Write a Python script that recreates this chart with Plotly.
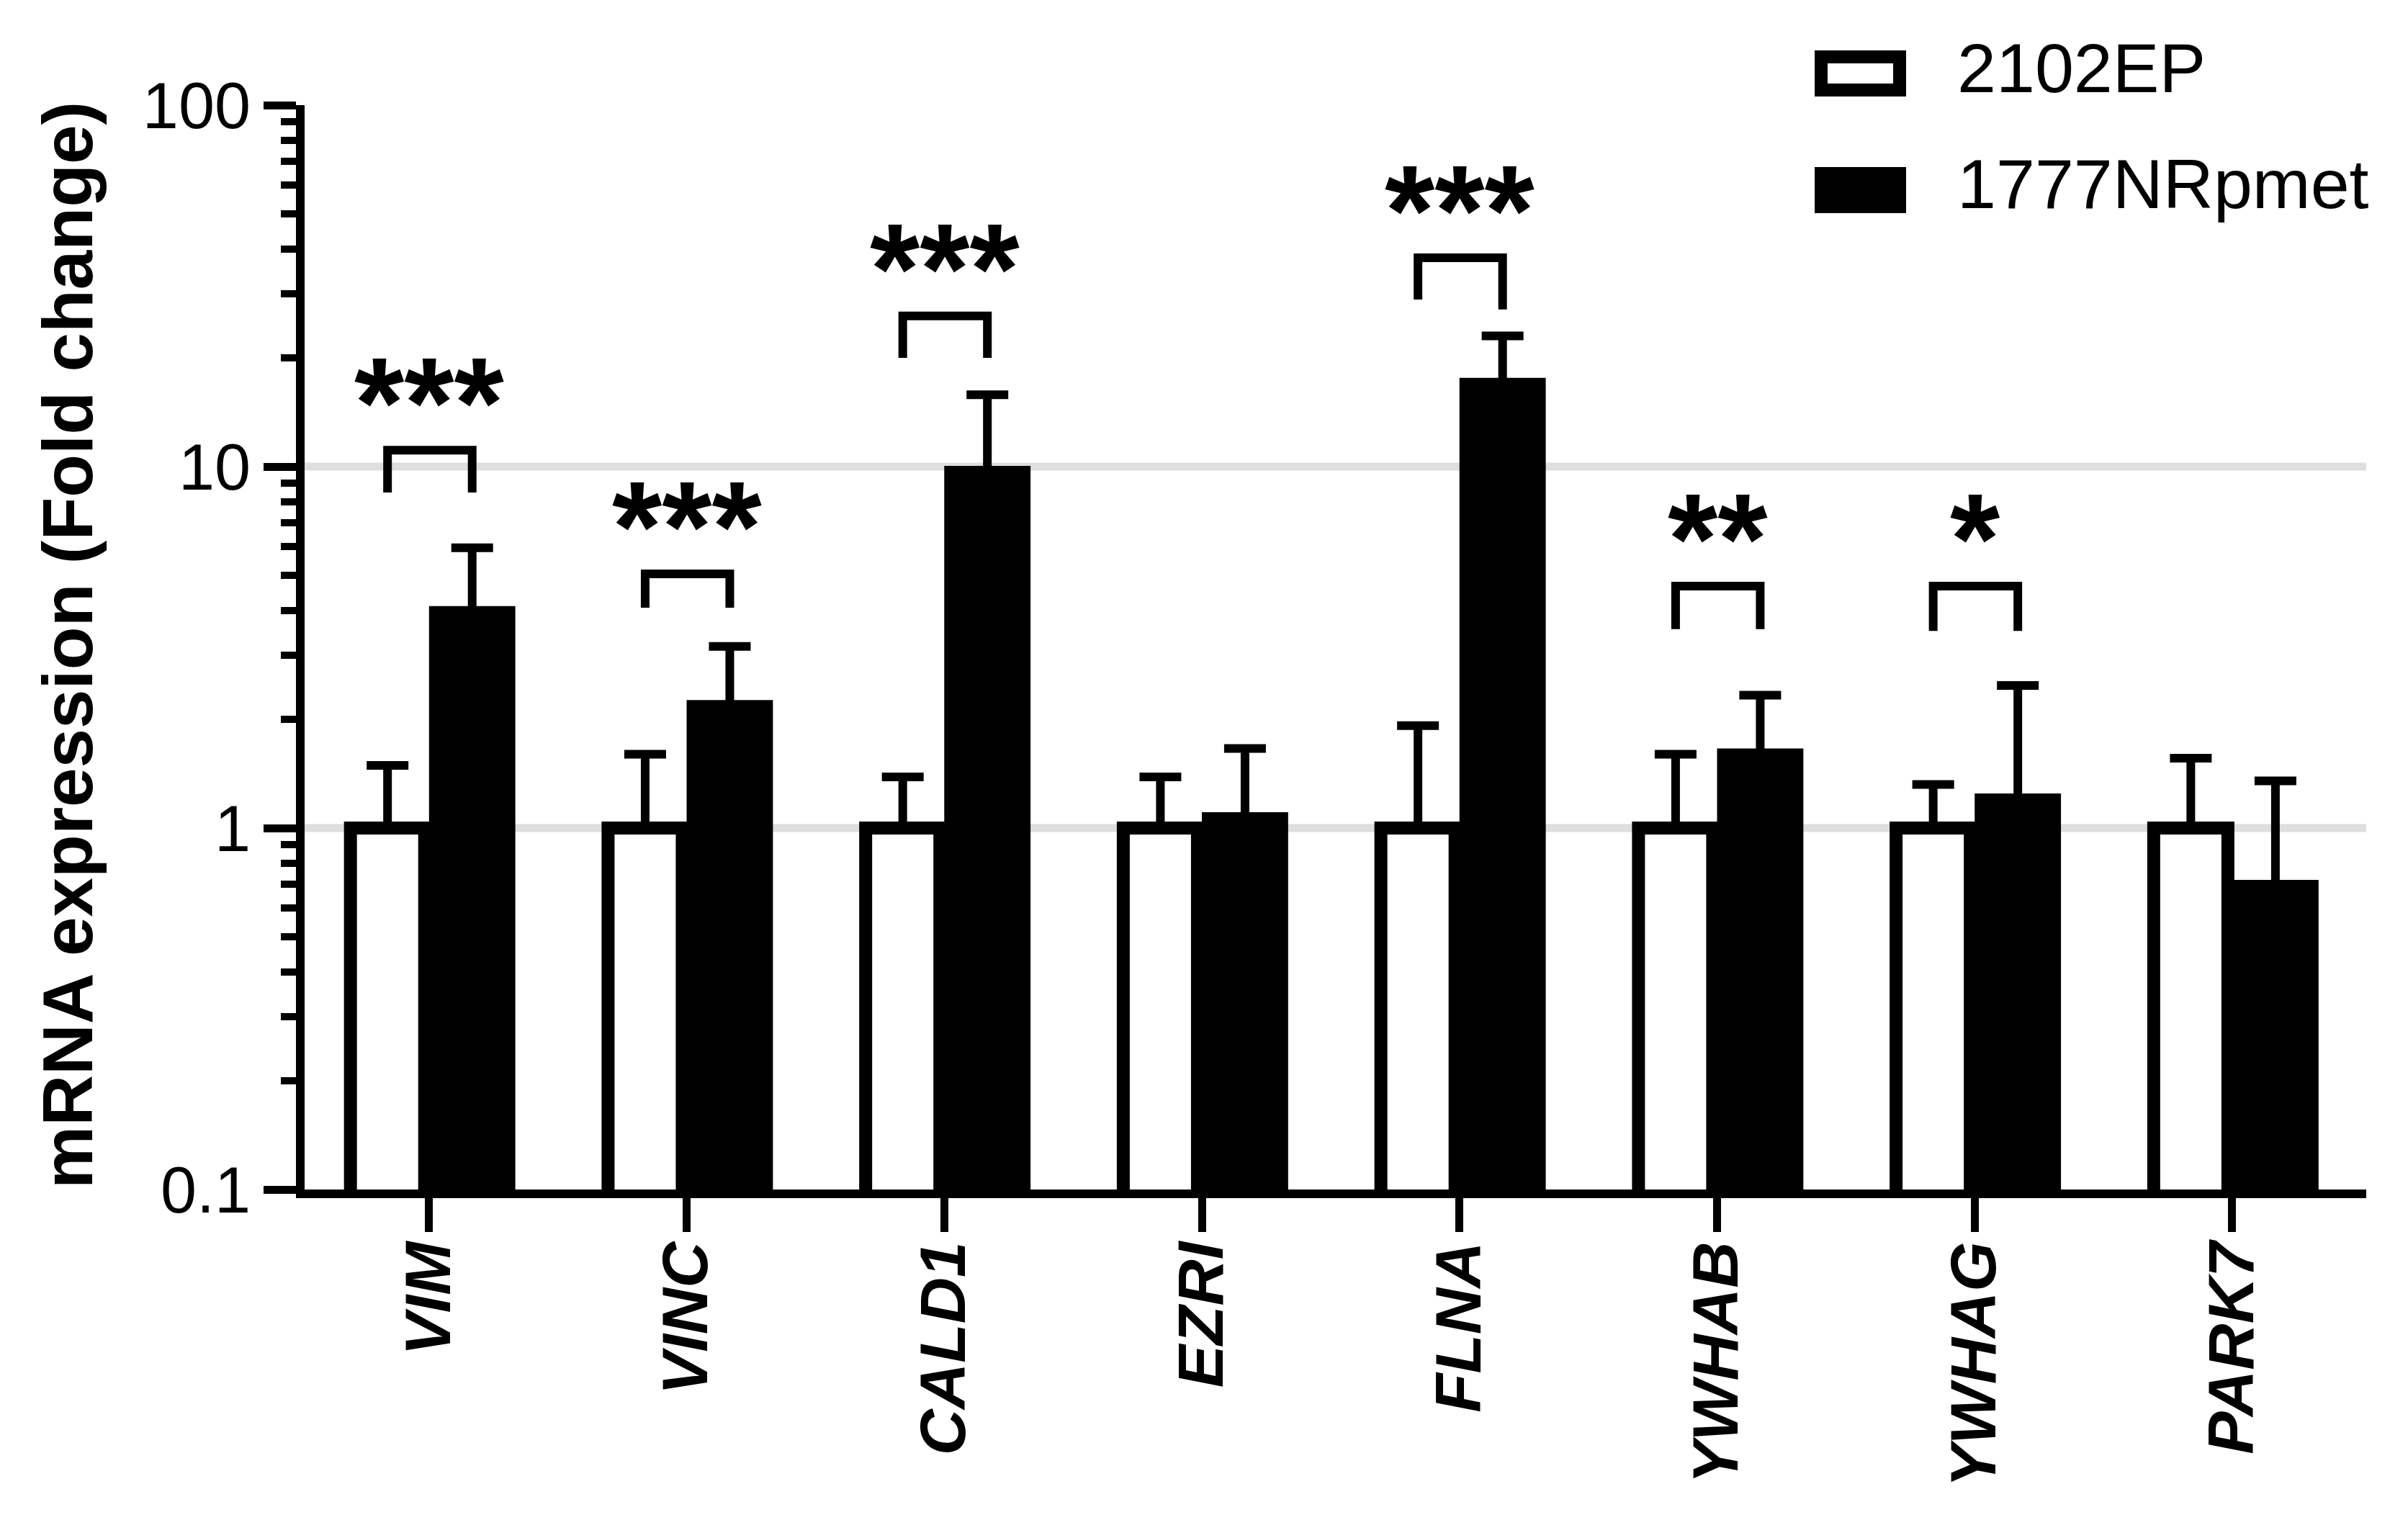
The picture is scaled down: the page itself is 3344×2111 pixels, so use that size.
import math
import plotly.graph_objects as go

# values (fold change, log axis)
genes = ["VIM", "VINC", "CALD1", "EZRI", "FLNA", "YWHAB", "YWHAG", "PARK7"]
ep_mean = [1.0, 1.0, 1.0, 1.0, 1.0, 1.0, 1.0, 1.0]
ep_err_top = [1.49, 1.60, 1.385, 1.385, 1.92, 1.60, 1.32, 1.56]
nr_mean = [4.11, 2.26, 10.05, 1.106, 17.6, 1.66, 1.246, 0.719]
nr_err_top = [5.96, 3.18, 15.8, 1.66, 23.0, 2.33, 2.48, 1.35]

# significance brackets
sig_genes = ["VIM", "VINC", "CALD1", "FLNA", "YWHAB", "YWHAG"]
sig_labels = ["***", "***", "***", "***", "**", "*"]
sig_top = [11.1, 5.05, 26.1, 37.8, 4.67, 4.67]
sig_leg_left = [8.48, 4.07, 20.0, 29.0, 3.55, 3.51]
sig_leg_right = [8.48, 4.07, 20.0, 27.2, 3.55, 3.51]

grid_vals = [1, 10]
series_names = ["2102EP", "1777NRpmet"]

FONT = "Arial, Liberation Sans, sans-serif"
W, H = 3344, 2111
L, R, T, B = 415, 66, 138, 467

# bar geometry (category units)
EP_W, EP_OFF = 0.288, -0.305
NR_W, NR_OFF = 0.335, 0.0
EP_C = EP_OFF + EP_W / 2
NR_C = NR_OFF + NR_W / 2


def px_x(p):
    return (p - L) / (W - L - R)


def px_y(p):
    return (H - B - p) / (H - B - T)


xs = list(range(len(genes)))

fig = go.Figure()

fig.add_bar(
    x=xs, y=ep_mean, width=EP_W, offset=EP_OFF, name=series_names[0],
    marker=dict(color="white", line=dict(color="black", width=18)),
    error_y=dict(type="data", symmetric=False,
                 array=[t - m for t, m in zip(ep_err_top, ep_mean)],
                 arrayminus=[0] * len(genes),
                 color="black", thickness=12, width=29),
    showlegend=False,
)
# lower end pushed a little into the black bar so its cap stays hidden
fig.add_bar(
    x=xs, y=nr_mean, width=NR_W, offset=NR_OFF, name=series_names[1],
    marker=dict(color="black", line=dict(width=0)),
    error_y=dict(type="data", symmetric=False,
                 array=[t - m for t, m in zip(nr_err_top, nr_mean)],
                 arrayminus=[m * 0.05 for m in nr_mean],
                 color="black", thickness=12, width=29),
    showlegend=False,
)

# brackets
bx, by = [], []
for g, top, ll, lr in zip(sig_genes, sig_top, sig_leg_left, sig_leg_right):
    c = genes.index(g)
    bx += [c + EP_C, c + EP_C, c + NR_C, c + NR_C, None]
    by += [ll, top, top, lr, None]
fig.add_scatter(x=bx, y=by, mode="lines",
                line=dict(color="black", width=12),
                showlegend=False, hoverinfo="skip")

for g, lab, top in zip(sig_genes, sig_labels, sig_top):
    c = genes.index(g)
    fig.add_annotation(x=c + (EP_C + NR_C) / 2, y=math.log10(top), text=lab,
                       showarrow=False, xanchor="center", yanchor="bottom",
                       yshift=-36,
                       font=dict(family=FONT, size=178, color="black", weight="bold"))

# grid lines
for v in grid_vals:
    fig.add_shape(type="line", xref="paper", yref="y", x0=0, x1=1, y0=v, y1=v,
                  line=dict(color="#dedede", width=11), layer="below")

# legend drawn by hand
fig.add_shape(type="rect", xref="paper", yref="paper",
              x0=px_x(2521), x1=px_x(2630), y0=px_y(71), y1=px_y(117),
              line=dict(color="black", width=18), fillcolor="white")
fig.add_shape(type="rect", xref="paper", yref="paper",
              x0=px_x(2512), x1=px_x(2639), y0=px_y(224), y1=px_y(288),
              line=dict(width=0), fillcolor="black")
for name, yc in zip(series_names, [86, 247]):
    fig.add_annotation(xref="paper", yref="paper", x=px_x(2708), y=px_y(yc),
                       text=name, showarrow=False, xanchor="left", yanchor="middle",
                       font=dict(family=FONT, size=97, color="black"))

# y-axis title
fig.add_annotation(xref="paper", yref="paper", x=px_x(86), y=0.502,
                   text="mRNA expression (Fold change)", textangle=-90,
                   showarrow=False, xanchor="center", yanchor="middle",
                   font=dict(family=FONT, size=98, color="black", weight="bold"))

fig.update_layout(
    width=W, height=H,
    margin=dict(l=L, r=R, t=T, b=B),
    paper_bgcolor="white", plot_bgcolor="white",
    barmode="overlay",
    xaxis=dict(
        range=[-0.483, 7.52], tickmode="array", tickvals=xs, ticktext=genes,
        tickangle=-90, ticks="outside", ticklen=47, tickwidth=11, tickcolor="black",
        ticklabelstandoff=-22,
        showline=True, linewidth=12, linecolor="black",
        showgrid=False, zeroline=False,
        tickfont=dict(family=FONT, size=89, color="black", weight="bold", style="italic"),
    ),
    yaxis=dict(
        type="log", range=[-1, 2], dtick=1,
        ticks="outside", ticklen=45, tickwidth=11, tickcolor="black",
        showline=True, linewidth=12, linecolor="black",
        showgrid=False, zeroline=False,
        tickfont=dict(family=FONT, size=90, color="black"),
        minor=dict(ticks="outside", ticklen=21, tickwidth=10, tickcolor="black",
                   dtick="D1", showgrid=False),
    ),
)

fig.write_html("out.html")
